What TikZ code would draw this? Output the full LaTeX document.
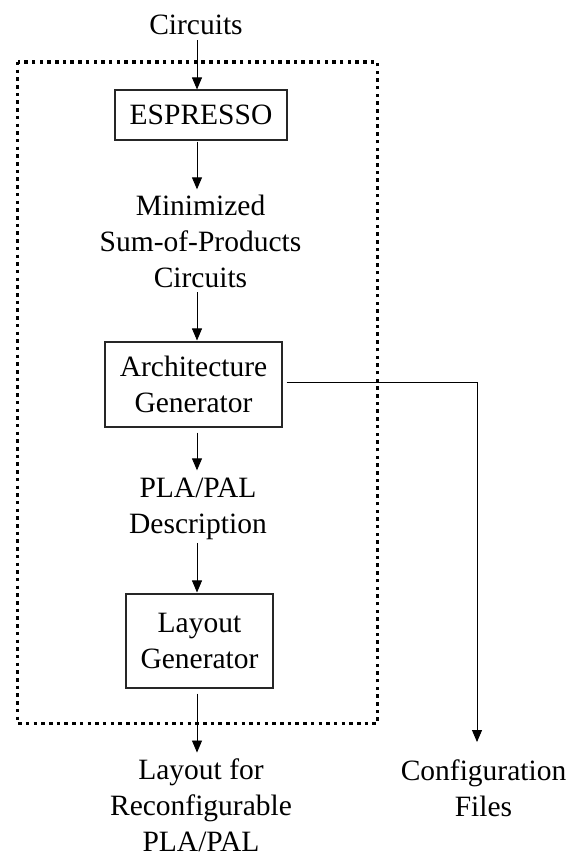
\documentclass[tikz,border=0pt]{standalone}
\usepackage{fontspec}
\setmainfont{Liberation Serif}
\usetikzlibrary{arrows.meta}
\begin{document}
\begin{tikzpicture}[x=1pt,y=-1pt,
  every node/.style={font=\fontsize{29.5}{36}\selectfont, inner sep=0pt, align=center},
  label/.style={anchor=base},
  block/.style={draw=black!85, line width=1.1pt, minimum width=#1},
  flow/.style={draw=black, line width=0.9pt, -{Triangle[width=10pt,length=12pt]}},
  frame/.style={draw=black, line width=3.5pt, dash pattern=on 3.5pt off 4.2pt}]
  \useasboundingbox (0,0) rectangle (571,853);

  % tool-flow frame
  \draw[frame] (17.5,62) rectangle (377.5,723.5);

  % vertical axes of the connectors
  \coordinate (axis) at (197,0);
  \coordinate (cfgx) at (477,0);

  % stages (multi-line labels sit on the baseline of their last line)
  \node[label] (cin) at (196,35) {Circuits};
  \node[block=172pt, minimum height=50pt] (esp) at (201,115) {ESPRESSO};
  \node[label] (sop) at (200.5,287) {Minimized\\Sum-of-Products\\Circuits};
  \node[block=177pt, minimum height=85pt] (arch) at (193.5,384.5) {Architecture\\Generator};
  \node[label] (desc) at (198,533) {PLA/PAL\\Description};
  \node[block=147pt, minimum height=94pt] (lay) at (199.5,641) {Layout\\Generator};
  \node[label] (out) at (201,851) {Layout for\\Reconfigurable\\PLA/PAL};
  \node[label] (cfg) at (483.5,816) {Configuration\\Files};

  % connectors
  \draw[flow, shorten <=5pt] (cin.south -| axis) -- (esp.north -| axis);
  \draw[flow, shorten <=1pt, shorten >=5pt] (esp.south -| axis) -- (sop.north -| axis);
  \draw[flow, shorten <=5pt, shorten >=1pt] (sop.south -| axis) -- (arch.north -| axis);
  \draw[flow, shorten <=5pt, shorten >=7pt] (arch.south -| axis) -- (desc.north -| axis);
  \draw[flow, shorten <=3.5pt, shorten >=1pt] (desc.south -| axis) -- (lay.north -| axis);
  \draw[flow, shorten <=5pt, shorten >=5.5pt] (lay.south -| axis) -- (out.north -| axis);
  \draw[flow, shorten <=4pt, shorten >=17pt] ([yshift=2.5pt]arch.east) -| (cfg.north -| cfgx);
\end{tikzpicture}
\end{document}
